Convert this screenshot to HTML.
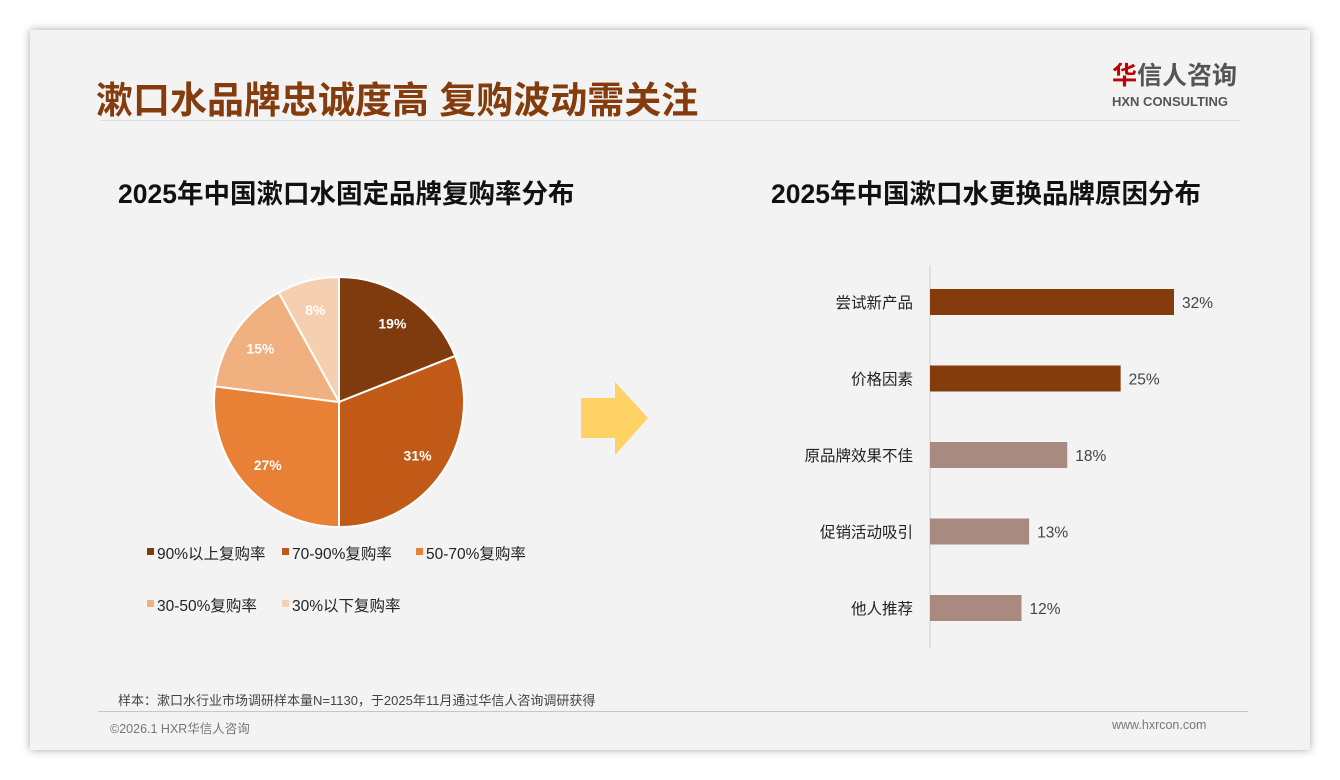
<!DOCTYPE html>
<html><head><meta charset="utf-8"><style>
body{margin:0;width:1340px;height:780px;background:#fff;font-family:"Liberation Sans","Noto Sans CJK SC",sans-serif;overflow:hidden;position:relative}
.card{position:absolute;left:30px;top:30px;width:1280px;height:720px;background:#f3f3f3;box-shadow:0 0 8px rgba(0,0,0,.35)}
.abs{position:absolute;white-space:nowrap}
</style></head><body>
<div class="card"></div>
<div class="abs" style="left:96px;top:70px;font-size:37px;font-weight:bold;color:#843c0c">漱口水品牌忠诚度高 复购波动需关注</div>
<div class="abs" style="left:1112px;top:62px;font-size:25px;font-weight:bold;color:#555;line-height:28px"><span style="color:#c00000">华</span>信人咨询</div>
<div class="abs" style="left:1112px;top:94px;font-size:13px;font-weight:bold;color:#555">HXN CONSULTING</div>
<div class="abs" style="left:100px;top:120px;width:1140px;height:1px;background:#ddd"></div>
<div class="abs" style="left:118px;top:172px;font-size:26.5px;font-weight:bold;color:#111">2025年中国漱口水固定品牌复购率分布</div>
<div class="abs" style="left:771px;top:172px;font-size:26.5px;font-weight:bold;color:#111">2025年中国漱口水更换品牌原因分布</div>
<svg class="abs" style="left:0;top:0" width="1340" height="780" id="chart">
<polygon points="581,398 615,398 615,382 648,418 615,455 615,438 581,438" fill="#ffd266"/>
<line x1="930" y1="265" x2="930" y2="648" stroke="#ccc"/>
</svg>
<div class="abs" style="left:118px;top:690px;font-size:13px;color:#444">样本：漱口水行业市场调研样本量N=1130，于2025年11月通过华信人咨询调研获得</div>
<div class="abs" style="left:98px;top:711px;width:1150px;height:1px;background:#d9c3b0"></div>
<div class="abs" style="left:110px;top:718px;font-size:12.5px;color:#777">©2026.1 HXR华信人咨询</div>
<div class="abs" style="left:1112px;top:718px;font-size:12.5px;color:#777">www.hxrcon.com</div>
<script>
const pieLabels=["90%以上复购率","70-90%复购率","50-70%复购率","30-50%复购率","30%以下复购率"];
const pieValues=[19,31,27,15,8];
const pieColors=["#7f3a0e","#c05a16","#e88035","#f0b080","#f5cfb0"];
const barCats=["尝试新产品","价格因素","原品牌效果不佳","促销活动吸引","他人推荐"];
const barValues=[32,25,18,13,12];
const barColors=["#843c0c","#843c0c","#a98a80","#a98a80","#a98a80"];
const NS="http://www.w3.org/2000/svg";
const svg=document.getElementById('chart');
function mk(t,a){const e=document.createElementNS(NS,t);for(const k in a)e.setAttribute(k,a[k]);svg.appendChild(e);return e;}
const cx=339,cy=402,r=125;
const total=pieValues.reduce((a,b)=>a+b,0);
let ang=-Math.PI/2;
pieValues.forEach((v,i)=>{
 const a2=ang+v/total*2*Math.PI;
 const x1=cx+r*Math.cos(ang),y1=cy+r*Math.sin(ang),x2=cx+r*Math.cos(a2),y2=cy+r*Math.sin(a2);
 const p=mk('path',{d:`M${cx},${cy}L${x1},${y1}A${r},${r} 0 ${a2-ang>Math.PI?1:0} 1 ${x2},${y2}Z`,fill:pieColors[i],stroke:'#fff','stroke-width':2});
 
 
 const m=(ang+a2)/2;
 const t=mk('text',{x:cx+r*0.76*Math.cos(m),y:cy+r*0.76*Math.sin(m)+5,'text-anchor':'middle','font-size':14,'font-weight':'bold',fill:'#fff'});
 t.textContent=v+'%';
 
 
 ang=a2;
});
const legPos=[[147,553],[282,553],[416,553],[147,605],[282,605]];
pieLabels.forEach((l,i)=>{
 const [x,y]=legPos[i];
 const s=mk('rect',{x:x,y:y-5,width:7,height:7,fill:pieColors[i]});
 
 
 const t=mk('text',{x:x+10,y:y+6,'font-size':15.5,fill:'#222'});
 t.textContent=l;
 
 
});
const x0=930,pxPer=7.625,y0=302,step=76.5,bh=26;
barCats.forEach((c,i)=>{
 const y=y0+i*step;
 const w=barValues[i]*pxPer;
 const b=mk('rect',{x:x0,y:y-bh/2,width:w,height:bh,fill:barColors[i]});
 
 
 const t=mk('text',{x:x0-17,y:y+6,'text-anchor':'end','font-size':15.5,fill:'#222'});
 t.textContent=c;
 
 
 const v=mk('text',{x:x0+w+8,y:y+6,'font-size':15.5,fill:'#444'});
 v.textContent=barValues[i]+'%';
 
 
});
</script>
</body></html>
